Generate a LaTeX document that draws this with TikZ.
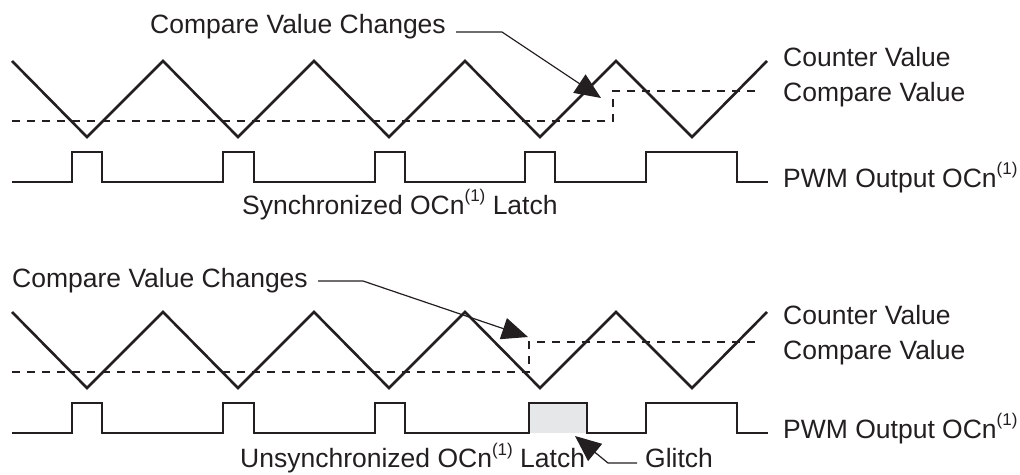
\documentclass[tikz,border=0pt]{standalone}
\usepackage{fontspec}
\setmainfont{Liberation Sans}
\usetikzlibrary{arrows.meta}
\definecolor{ink}{HTML}{231F20}
\definecolor{glitchgray}{HTML}{E6E7E8}
\newcommand\supone{\raisebox{12.5pt}{\fontsize{17}{18}\selectfont(1)}}
\tikzset{
  lbl/.style={anchor=base west, inner sep=0pt, text=ink, font=\fontsize{26.5}{30}\selectfont},
  wave/.style={draw=ink, line width=2.6pt, line join=miter},
  cmpline/.style={draw=ink, line width=1.2pt, dash pattern=on 8pt off 7pt},
  leader/.style={draw=ink, line width=1.2pt, -{Triangle[length=26pt,width=22pt]}},
}
\begin{document}
\begin{tikzpicture}[x=1pt,y=-1pt]
\useasboundingbox (0,0) rectangle (1020,474);

% ===== top panel =====
\draw[wave] (12,61) -- (87,137) -- (163,61) -- (238,137) -- (314,61) -- (389,137)
  -- (465,61) -- (540,137) -- (616,61) -- (692,137) -- (767,61);
\draw[cmpline] (12,121) -- (613,121) -- (613,91) -- (759,91);
\draw[wave] (12,182) -- (72,182) -- (72,152) -- (102,152) -- (102,182) -- (223,182)
  -- (223,152) -- (254,152) -- (254,182) -- (375,182) -- (375,152) -- (405,152)
  -- (405,182) -- (525,182) -- (525,152) -- (555,152) -- (555,182) -- (646,182)
  -- (646,152) -- (737,152) -- (737,182) -- (768,182);

\node[lbl] (cvc1) at (150,33) {Compare Value Changes};
\node[lbl] (cnt1) at (783,66) {Counter Value};
\node[lbl] (cmp1) at (783,101) {Compare Value};
\node[lbl] (pwm1) at (783,187) {PWM Output OCn\supone};
\node[lbl] (syn1) at (242,214) {Synchronized OCn\supone{} Latch};
\coordinate (a1) at (456,32);
\coordinate (k1) at (502,32);
\coordinate (t1) at (601,98);
\draw[leader] (a1) -- (k1) -- (t1);

% ===== bottom panel =====
\fill[glitchgray] (529,403) rectangle (587,433);
\draw[wave] (12,312) -- (87,388) -- (163,312) -- (238,388) -- (314,312) -- (389,388)
  -- (465,312) -- (540,388) -- (616,312) -- (692,388) -- (767,312);
\draw[cmpline] (12,372) -- (529,372) -- (529,342) -- (759,342);
\draw[wave] (12,433) -- (72,433) -- (72,403) -- (102,403) -- (102,433) -- (223,433)
  -- (223,403) -- (254,403) -- (254,433) -- (375,433) -- (375,403) -- (405,403)
  -- (405,433) -- (529,433) -- (529,403) -- (587,403) -- (587,433) -- (646,433)
  -- (646,403) -- (737,403) -- (737,433) -- (768,433);

\node[lbl] (cvc2) at (12,287) {Compare Value Changes};
\node[lbl] (cnt2) at (783,324) {Counter Value};
\node[lbl] (cmp2) at (783,359) {Compare Value};
\node[lbl] (pwm2) at (783,438) {PWM Output OCn\supone};
\node[lbl] (syn2) at (240,467.5) {Unsynchronized OCn\supone{} Latch};
\node[lbl] (gl) at (645,467.5) {Glitch};
\coordinate (a2) at (318,281);
\coordinate (k2) at (363,281);
\coordinate (t2) at (528,337);
\draw[leader] (a2) -- (k2) -- (t2);
\coordinate (a3) at (637,463);
\coordinate (k3) at (608,463);
\coordinate (t3) at (575,436);
\draw[leader] (a3) -- (k3) -- (t3);
\end{tikzpicture}
\end{document}
